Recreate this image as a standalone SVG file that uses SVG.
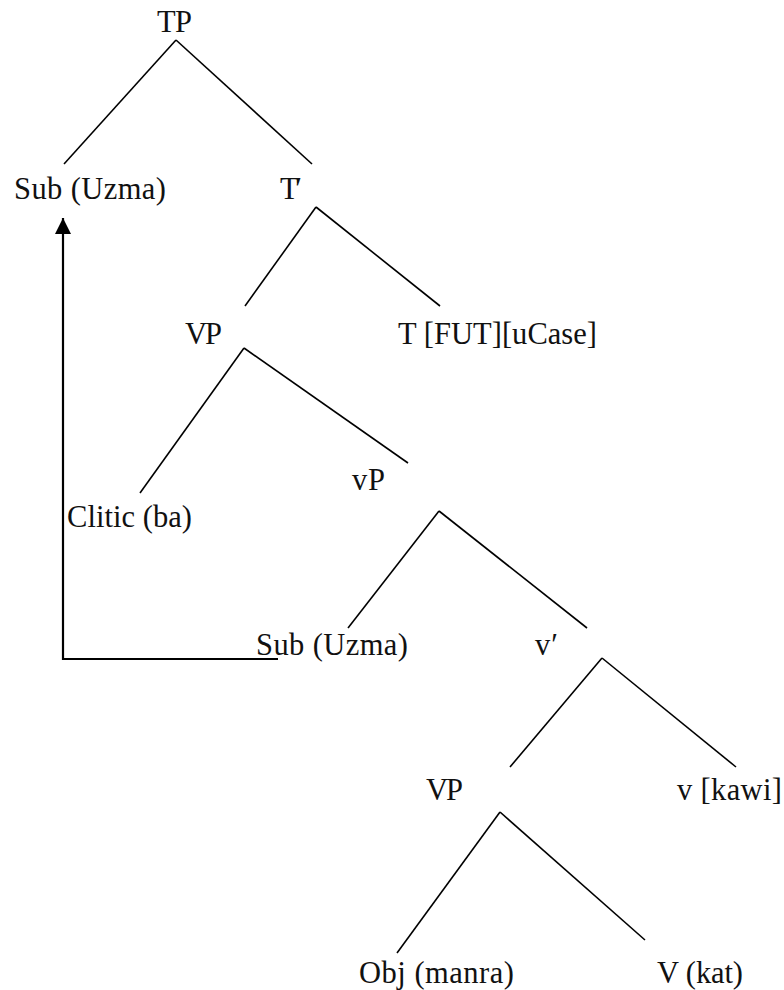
<svg xmlns="http://www.w3.org/2000/svg" width="784" height="990" viewBox="0 0 784 990">
  <defs>
    <style>
      .lbl { font-family: "Liberation Serif", "DejaVu Serif", serif; font-size: 30.5px; fill: #111; }
      .edge { stroke: #000; stroke-width: 1.6; fill: none; stroke-linecap: butt; }
      .move { stroke: #000; stroke-width: 2.2; fill: none; }
    </style>
    <marker id="arrowhead" markerUnits="userSpaceOnUse" markerWidth="16" markerHeight="16" refX="16" refY="8" orient="auto">
      <path d="M0,0 L16,8 L0,16 Z" fill="#000"/>
    </marker>
  </defs>
  <rect width="784" height="990" fill="#fff"/>

  <g id="connectors">
    <line class="edge" x1="176" y1="40" x2="64" y2="164"/>
    <line class="edge" x1="176" y1="40" x2="312" y2="164"/>
    <line class="edge" x1="316" y1="207" x2="245" y2="306"/>
    <line class="edge" x1="316" y1="207" x2="440" y2="306"/>
    <line class="edge" x1="244" y1="348" x2="140" y2="493"/>
    <line class="edge" x1="244" y1="348" x2="408" y2="463"/>
    <line class="edge" x1="439" y1="511" x2="348" y2="628"/>
    <line class="edge" x1="439" y1="511" x2="587" y2="628"/>
    <line class="edge" x1="602" y1="658" x2="510" y2="767"/>
    <line class="edge" x1="602" y1="658" x2="736" y2="767"/>
    <line class="edge" x1="500" y1="812" x2="397" y2="953"/>
    <line class="edge" x1="500" y1="812" x2="645" y2="940"/>
    <polyline class="move" points="278,659 63,659 63,218" marker-end="url(#arrowhead)"/>
  </g>

  <g id="n-TP"><text class="lbl" x="157" y="32" textLength="35">TP</text></g>
  <g id="n-Sub-top"><text class="lbl" x="14" y="199" textLength="152">Sub (Uzma)</text></g>
  <g id="n-Tbar"><text class="lbl" x="280" y="199" textLength="22">T′</text></g>
  <g id="n-VP-top"><text class="lbl" x="185" y="344" textLength="37">VP</text></g>
  <g id="n-T"><text class="lbl" x="398" y="344" textLength="199">T [FUT][uCase]</text></g>
  <g id="n-vP"><text class="lbl" x="352" y="490" textLength="33">vP</text></g>
  <g id="n-Clitic"><text class="lbl" x="67" y="527" textLength="125">Clitic (ba)</text></g>
  <g id="n-Sub-low"><text class="lbl" x="256" y="655" textLength="152">Sub (Uzma)</text></g>
  <g id="n-vbar"><text class="lbl" x="535" y="655" textLength="23">v′</text></g>
  <g id="n-VP-low"><text class="lbl" x="426" y="800" textLength="37">VP</text></g>
  <g id="n-v"><text class="lbl" x="677" y="800" textLength="105">v [kawi]</text></g>
  <g id="n-Obj"><text class="lbl" x="359" y="983" textLength="155">Obj (manra)</text></g>
  <g id="n-V"><text class="lbl" x="657" y="983" textLength="86">V (kat)</text></g>
</svg>
